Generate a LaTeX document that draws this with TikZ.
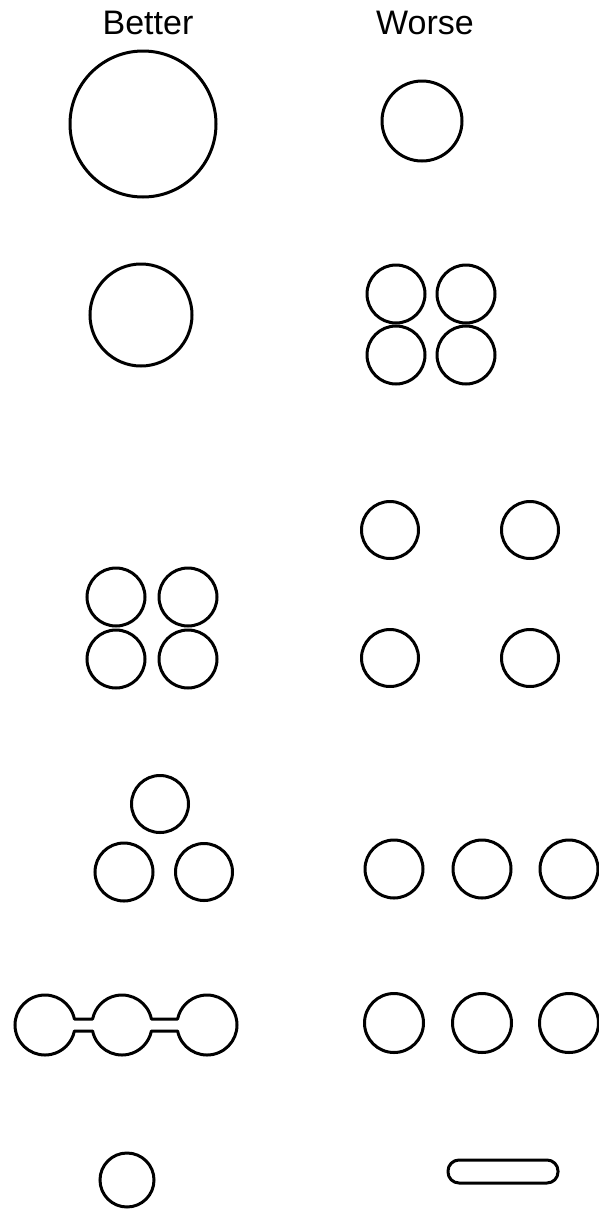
\documentclass[tikz,border=0pt]{standalone}
\usepackage{fontspec}
\setmainfont{Liberation Sans}
\usetikzlibrary{calc}
\begin{document}
\begin{tikzpicture}[x=1pt,y=1pt,
  ring/.style={draw=black,line width=3pt},
  head/.style={font=\fontsize{34}{36}\selectfont,anchor=center,inner sep=0pt}]
\useasboundingbox (0,0) rectangle (599,-1210);
% headings
\node[head] (hb) at (148,-22.5) {Better};
\node[head] (hw) at (425,-22.5) {Worse};
% row 1
\draw[ring] (143,-124) circle[radius=73];
\draw[ring] (422,-121) circle[radius=40];
% row 2
\draw[ring] (141,-315) circle[radius=51];
\foreach \x in {396,466}{\foreach \y in {294,355}{\draw[ring] (\x,-\y) circle[radius=29];}}
% row 3
\foreach \x in {390,530}{\foreach \y in {530,658}{\draw[ring] (\x,-\y) circle[radius=28.5];}}
\foreach \x in {116,188}{\foreach \y in {597,659}{\draw[ring] (\x,-\y) circle[radius=29];}}
% row 4
\draw[ring] (160,-804) circle[radius=28.5];
\draw[ring] (124,-872) circle[radius=29];
\draw[ring] (204,-872) circle[radius=28.5];
\foreach \x in {394,482,569}{\draw[ring] (\x,-869) circle[radius=29];}
% row 5
\foreach \x in {394,482,569}{\draw[ring] (\x,-1023) circle[radius=29.5];}
\coordinate (c1) at (45,-1025);
\coordinate (c2) at (122,-1025);
\coordinate (c3) at (207,-1025);
\draw[ring,line join=round]
  ($(c1)+(11.54:30)$) arc[start angle=11.54,end angle=348.46,radius=30]
  -- ($(c2)+(191.54:30)$) arc[start angle=191.54,end angle=348.46,radius=30]
  -- ($(c3)+(191.54:30)$) arc[start angle=191.54,end angle=528.46,radius=30]
  -- ($(c2)+(11.54:30)$) arc[start angle=11.54,end angle=168.46,radius=30]
  -- cycle;
% row 6
\draw[ring] (127,-1180) circle[radius=27];
\draw[ring,rounded corners=11pt] (448,-1160) rectangle (558,-1183);
\end{tikzpicture}
\end{document}
